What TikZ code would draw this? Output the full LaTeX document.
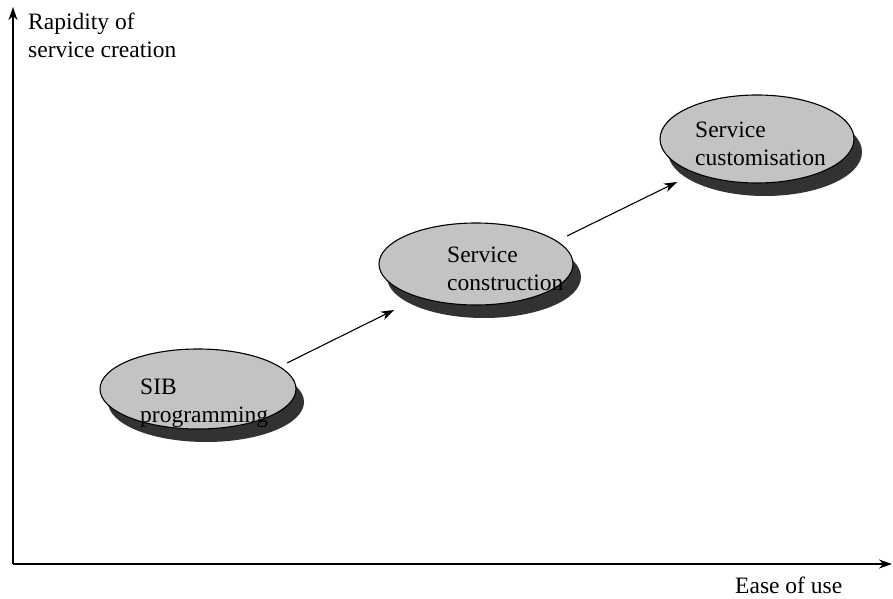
\documentclass[tikz,border=0pt]{standalone}
\usepackage{fontspec}
\setmainfont{Liberation Serif}
\usepackage{tikz}
\usetikzlibrary{arrows.meta,shapes.geometric,shadows}
\definecolor{discgrey}{RGB}{195,195,195}
\definecolor{discshade}{RGB}{50,50,50}

\begin{document}
\begin{tikzpicture}[x=1pt,y=1pt,
    disc/.style={ellipse,draw=black,line width=1.1pt,fill=discgrey,inner sep=0pt,
        drop shadow={shadow xshift=8pt,shadow yshift=-13pt,opacity=1,fill=discshade}},
    lbl/.style={anchor=north west,align=left,inner sep=0pt,
        font=\fontsize{23.5}{28}\selectfont},
    axis/.style={line width=1.3pt,-{Stealth[length=13pt,width=9pt,inset=4pt]}},
    link/.style={line width=1.1pt,-{Stealth[length=13pt,width=9pt,inset=4pt]}}]
\useasboundingbox (0,0) rectangle (893,598);

% Axes
\coordinate (origin) at (13,34);
\coordinate (ytip) at (13,591);
\coordinate (xtip) at (892,34);
\draw[axis] (origin) -- (ytip);
\draw[axis] (origin) -- (xtip);
\node[lbl] (ylab) at (28,585) {Rapidity of\\service creation};
\node[lbl,anchor=base west] (xlab) at (735,5) {Ease of use};

% Discs
\node[disc,minimum width=196,minimum height=80] (sib) at (198,209) {};
\node[disc,minimum width=194,minimum height=82] (constr) at (476,334) {};
\node[disc,minimum width=194,minimum height=88] (cust) at (757,459) {};

\node[lbl] (siblab) at ([shift={(-58,10)}]sib.center) {SIB\\programming};
\node[lbl] (constrlab) at ([shift={(-29,17)}]constr.center) {Service\\construction};
\node[lbl] (custlab) at ([shift={(-62,17)}]cust.center) {Service\\customisation};

% Steps
\draw[link] ([shift={(89,26)}]sib.center) -- ([shift={(-82,-46)}]constr.center);
\draw[link] ([shift={(91,28)}]constr.center) -- ([shift={(-80,-43)}]cust.center);
\end{tikzpicture}
\end{document}
